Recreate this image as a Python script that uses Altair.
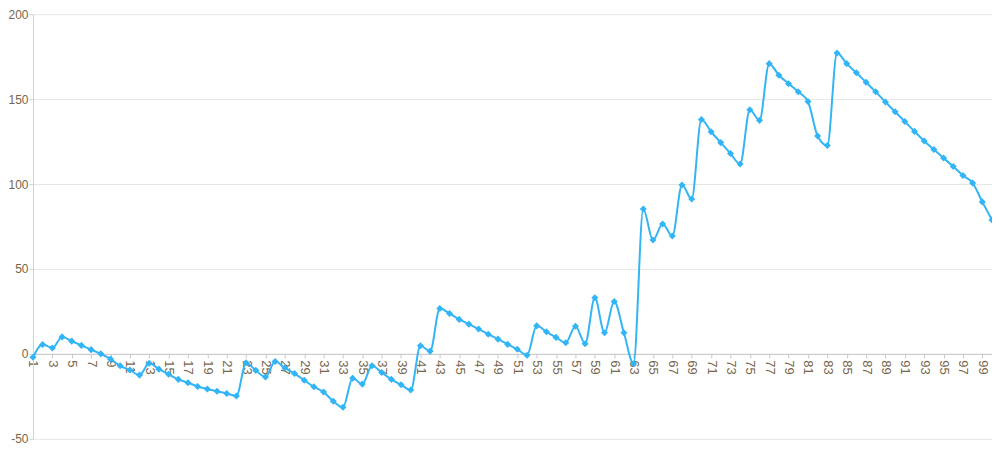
import altair as alt
import pandas as pd

categories = list(range(1, 101))
values = [
    -2, 5.5, 3.5, 10, 7.5, 5, 2.5, 0, -3, -7,
    -9.5, -12.5, -5.5, -9, -12, -15, -17, -19.2, -20.7, -22,
    -23.3, -24.8, -5.2, -9.7, -13.6, -4.5, -8.3, -11.6, -15.5, -19.4,
    -22.5, -27.9, -31.4, -14.3, -17.8, -7, -11, -15, -18.2, -21.3,
    4.8, 1.6, 26.7, 23.8, 20.3, 17.5, 14.6, 11.6, 8.7, 5.6,
    2.7, -0.8, 16.5, 13, 9.7, 6.6, 16.3, 6, 33, 12.4,
    30.8, 12.4, -5.8, 85.3, 67, 76.5, 69.4, 99.4, 91.2, 138,
    130.8, 124.4, 118, 111.8, 143.8, 137.5, 170.9, 164.1, 159.1, 154.3,
    148.6, 128.3, 122.7, 177.1, 170.9, 165.5, 159.9, 154.3, 148.3, 142.6,
    136.8, 131, 125.4, 120.3, 115.3, 110.3, 105, 100.6, 89.5, 78.9,
]
x_tick_labels = list(range(1, 101, 2))
y_ticks = [-50, 0, 50, 100, 150, 200]

df = pd.DataFrame({"cat": categories, "value": values})

LABEL_COLOR = "#76664d"
LINE_COLOR = "#33b5f5"
FONT = "Liberation Sans"

W, H = 960, 425
zero_from_bottom = H * (0 - (-50)) / (200 - (-50))

x_enc = alt.X(
    "cat:O",
    scale=alt.Scale(type="point", padding=0),
    axis=alt.Axis(
        title=None,
        values=x_tick_labels,
        labelAngle=90,
        labelAlign="left",
        labelBaseline="middle",
        labelOverlap=False,
        labelPadding=2,
        offset=-zero_from_bottom,
        domainColor="#c8c8c8",
        tickColor="#c8c8c8",
        tickSize=4,
        labelColor=LABEL_COLOR,
        labelFontSize=13,
        labelFont=FONT,
        grid=False,
    ),
)
y_enc = alt.Y(
    "value:Q",
    scale=alt.Scale(domain=[-50, 200], nice=False, zero=False),
    axis=alt.Axis(
        title=None,
        values=y_ticks,
        labelExpr="'' + datum.value",
        domainColor="#d0d0d0",
        tickColor="#d0d0d0",
        tickSize=4,
        labelPadding=1,
        labelColor=LABEL_COLOR,
        labelFontSize=12,
        labelFont=FONT,
        gridColor="#e6e6e6",
    ),
)

line = alt.Chart(df).mark_line(
    color=LINE_COLOR, strokeWidth=2, interpolate="monotone"
).encode(x=x_enc, y=y_enc)

points = alt.Chart(df).mark_point(
    shape="diamond", filled=True, color=LINE_COLOR, size=50, opacity=1
).encode(x=x_enc, y=y_enc)

chart = (
    alt.layer(line, points)
    .properties(
        width=W,
        height=H,
        autosize=alt.AutoSizeParams(type="none"),
        padding={"left": 25, "top": 6, "right": 0, "bottom": 10},
        background="white",
    )
    .configure_view(stroke=None)
)

chart.save("out.html", embed_options={"renderer": "svg", "actions": False})
